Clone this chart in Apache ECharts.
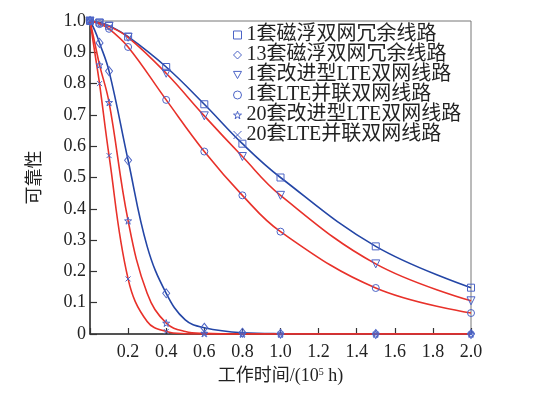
<!DOCTYPE html>
<html>
<head>
<meta charset="utf-8">
<script src="https://cdn.jsdelivr.net/npm/echarts@6/dist/echarts.min.js"></script>
<style>
html,body{margin:0;padding:0;background:#fff;}
#main{width:533px;height:398px;}
</style>
</head>
<body>
<div id="main"></div>
<script>
// legend names
var names = ['1套磁浮双网冗余线路', '13套磁浮双网冗余线路', '1套改进型LTE双网线路',
	'1套LTE并联双网线路', '20套改进型LTE双网线路', '20套LTE并联双网线路'];

// x (10^5 h)
var xSlow = [0, 0.05, 0.1, 0.2, 0.4, 0.6, 0.8, 1.0, 1.5, 2.0];
var xFast = [0, 0.025, 0.05, 0.1, 0.2, 0.3, 0.4, 0.5, 0.6, 0.8, 1.0, 1.5, 2.0];
// points that carry a marker
var markX = [0, 0.05, 0.1, 0.2, 0.4, 0.6, 0.8, 1.0, 1.5, 2.0];

// reliability
var maglev1  = [1.0, 0.995, 0.985, 0.95, 0.853, 0.734, 0.608, 0.5, 0.28, 0.148];
var lteImp1  = [1.0, 0.993, 0.983, 0.948, 0.833, 0.697, 0.567, 0.443, 0.224, 0.106];
var ltePar1  = [1.0, 0.99, 0.975, 0.917, 0.748, 0.583, 0.443, 0.327, 0.147, 0.067];
var maglev13 = [1.0, 0.97, 0.93, 0.84, 0.555, 0.28, 0.13, 0.045, 0.02, 0.004, 0.001, 0, 0];
var lteImp20 = [1.0, 0.93, 0.86, 0.74, 0.362, 0.13, 0.035, 0.008, 0.002, 0, 0, 0, 0];
var ltePar20 = [1.0, 0.9, 0.8, 0.57, 0.176, 0.04, 0.008, 0.001, 0, 0, 0, 0, 0];

var blue = '#2446a6';
var red = '#e8312a';
var mark = '#4c64c6';
var font = '"Liberation Serif", "Noto Sans CJK SC", serif';

var symTriDown = 'path://M0,0 L10,0 L5,9 Z';
var symStar = 'path://M50,0 L61,35 L98,35 L68,57 L79,91 L50,70 L21,91 L32,57 L2,35 L39,35 Z';
var symCross = 'path://M0,0 L10,10 M10,0 L0,10';

function build(xs, ys) {
	return xs.map(function (x, i) {
		var d = {value: [x, ys[i]]};
		if (markX.indexOf(x) < 0) d.symbol = 'none';
		return d;
	});
}

function line(name, xs, ys, color, symbol, size) {
	return {
		name: name,
		type: 'line',
		smooth: 0.4,
		data: build(xs, ys),
		symbol: symbol,
		symbolSize: size,
		showAllSymbol: true,
		lineStyle: {color: color, width: 1.6},
		itemStyle: {color: 'rgba(0,0,0,0)', borderColor: mark, borderWidth: 1},
		emphasis: {disabled: true},
		z: 2
	};
}

var icons = ['rect', 'diamond', symTriDown, 'circle', symStar, symCross];
var iconSize = [7, [7, 9], 8, 7, 7, 5];

var chart = echarts.init(document.getElementById('main'));
var option = {
	animation: false,
	grid: {left: 90, right: 62, top: 21, bottom: 64, show: true, borderColor: '#777', borderWidth: 1},
	legend: {
		orient: 'vertical',
		left: 228,
		top: 20,
		itemGap: 0,
		itemWidth: 8,
		itemHeight: 8,
		textStyle: {fontFamily: font, fontSize: 20, lineHeight: 19, color: '#222'},
		data: names.map(function (n, i) {
			return {name: n, icon: icons[i],
				itemStyle: {color: 'rgba(0,0,0,0)', borderColor: mark, borderWidth: 1}};
		})
	},
	xAxis: {
		type: 'value',
		min: 0,
		max: 2.0,
		interval: 0.2,
		name: '工作时间/(10{sup|5} h)',
		nameLocation: 'middle',
		nameGap: 33,
		nameTextStyle: {fontFamily: font, fontSize: 18, color: '#222',
			rich: {sup: {fontFamily: font, fontSize: 10, verticalAlign: 'top', padding: [0, 0, 8, 0], color: '#222'}}},
		axisLine: {lineStyle: {color: '#333', width: 1.5}},
		axisTick: {inside: true, length: 6, lineStyle: {color: '#333', width: 1.2}},
		axisLabel: {fontFamily: font, fontSize: 18, color: '#222', margin: 9,
			formatter: function (v) { return v === 0 ? '' : v.toFixed(1); }},
		splitLine: {show: false}
	},
	yAxis: {
		type: 'value',
		min: 0,
		max: 1.0,
		interval: 0.1,
		name: '可靠性',
		nameLocation: 'middle',
		nameRotate: 90,
		nameGap: 46,
		nameTextStyle: {fontFamily: font, fontSize: 18, color: '#222'},
		axisLine: {lineStyle: {color: '#333', width: 1.5}},
		axisTick: {inside: true, length: 7, lineStyle: {color: '#333', width: 1.2}},
		axisLabel: {fontFamily: font, fontSize: 18, color: '#222', margin: 4,
			formatter: function (v) { return v === 0 ? '0' : v.toFixed(1); }},
		splitLine: {show: false}
	},
	series: [
		line(names[0], xSlow, maglev1, blue, icons[0], iconSize[0]),
		line(names[1], xFast, maglev13, blue, icons[1], iconSize[1]),
		line(names[2], xSlow, lteImp1, red, icons[2], iconSize[2]),
		line(names[3], xSlow, ltePar1, red, icons[3], iconSize[3]),
		line(names[4], xFast, lteImp20, red, icons[4], iconSize[4]),
		line(names[5], xFast, ltePar20, red, icons[5], iconSize[5])
	]
};
chart.setOption(option);
</script>
</body>
</html>
